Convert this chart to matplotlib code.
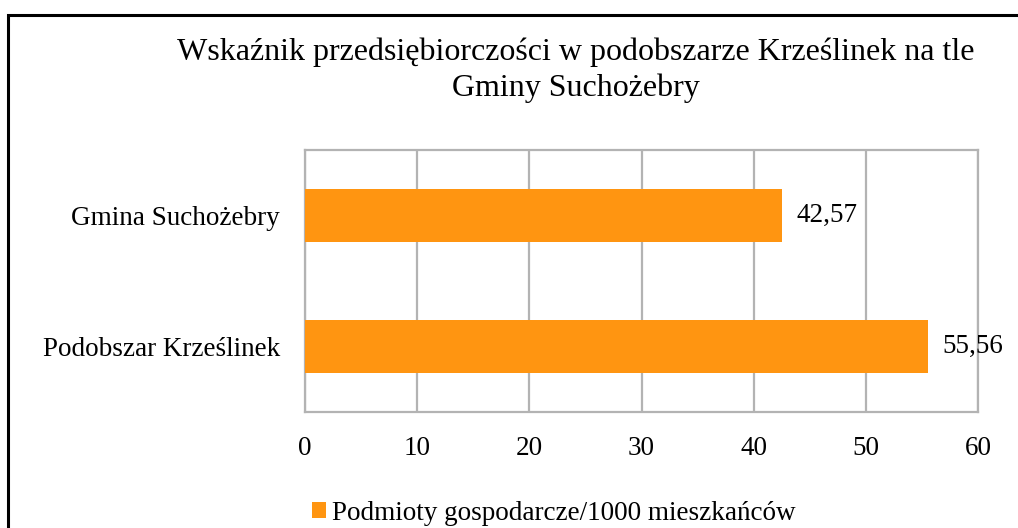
import matplotlib.pyplot as plt
from matplotlib.patches import Rectangle

plt.rcParams['font.family'] = ['Liberation Serif', 'DejaVu Serif']

# data
categories = ['Podobszar Krześlinek', 'Gmina Suchożebry']
values = [55.56, 42.57]
value_labels = ['55,56', '42,57']
series_name = 'Podmioty gospodarcze/1000 mieszkańców'
title = 'Wskaźnik przedsiębiorczości w podobszarze Krześlinek na tle\nGminy Suchożebry'

bar_color = '#FF9511'
grid_color = '#B3B3B3'

fig = plt.figure(figsize=(10.18, 5.28), dpi=100)
ax = fig.add_axes([305 / 1018, 1 - 412 / 528, 673 / 1018, 262 / 528])

ypos = list(range(len(categories)))
bars = ax.barh(ypos, values, height=0.41, color=bar_color, label=series_name, zorder=3)

for b, lab in zip(bars, value_labels):
    ax.annotate(lab, (b.get_width(), b.get_y() + b.get_height() / 2),
                xytext=(10, 0), textcoords='offset points', ha='left', va='center',
                fontsize=19.5, annotation_clip=False)

ax.set_xlim(0, 60)
ax.set_ylim(-0.5, 1.5)
ax.set_xticks(range(0, 61, 10))
ax.set_yticks(ypos)
ax.set_yticklabels(categories)
ax.tick_params(axis='both', length=0, labelsize=19.5)
ax.tick_params(axis='x', pad=17)
ax.tick_params(axis='y', pad=18)
ax.grid(axis='x', color=grid_color, linewidth=1.6, zorder=0)
for s in ax.spines.values():
    s.set_color(grid_color)
    s.set_linewidth(1.6)

fig.text(576 / 1018, 1 - 70 / 528, title, ha='center', va='center',
         fontsize=23, linespacing=1.28)

fig.legend(loc='center', bbox_to_anchor=(554 / 1018, 1 - 513 / 528), frameon=False,
           fontsize=19.5, handlelength=0.5, handleheight=0.5, handletextpad=0.25)

# outer border of the chart area
fig.add_artist(Rectangle((8 / 1018, -0.05), 1.1, 1 - 15 / 528 + 0.05,
                         transform=fig.transFigure, fill=False,
                         edgecolor='black', linewidth=2.2))

fig.savefig('out.png', dpi=100)
